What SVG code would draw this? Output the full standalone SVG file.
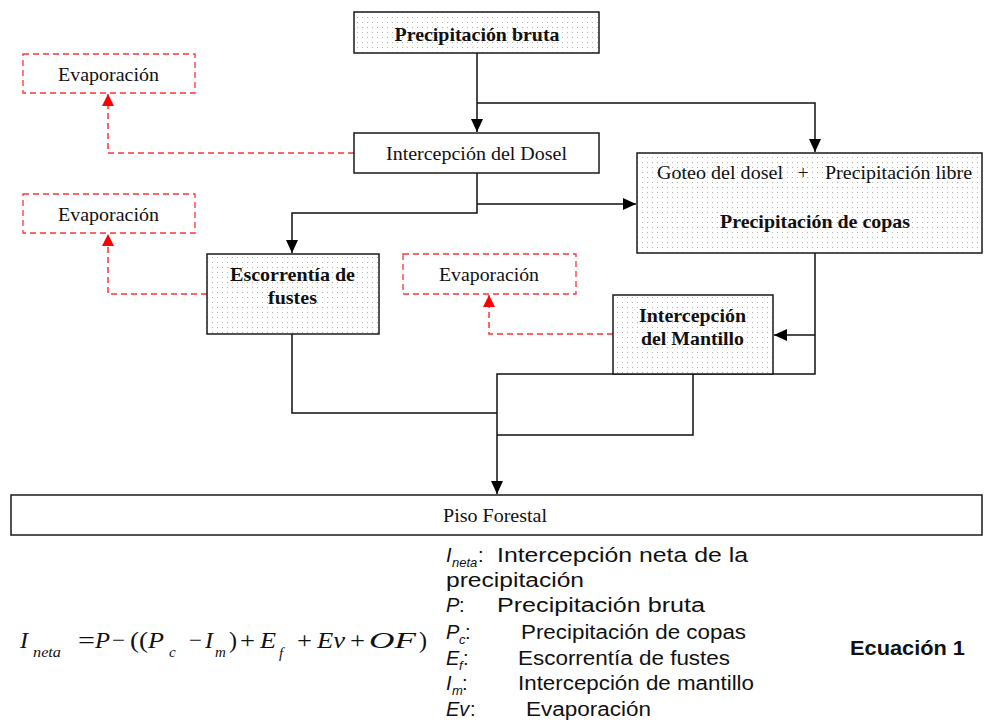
<svg xmlns="http://www.w3.org/2000/svg" width="984" height="722" viewBox="0 0 984 722">
<defs>
<pattern id="dots" width="5" height="5" patternUnits="userSpaceOnUse">
<rect width="5" height="5" fill="#ffffff"/>
<rect x="2" y="2" width="1" height="1" fill="#b4b4b4"/>
</pattern>
<marker id="ah" markerWidth="13" markerHeight="14" refX="13" refY="7" orient="auto" markerUnits="userSpaceOnUse">
<path d="M0,1 L13,7 L0,13 Z" fill="#000"/>
</marker>
<marker id="rh" markerWidth="12" markerHeight="14" refX="12" refY="7" orient="auto" markerUnits="userSpaceOnUse">
<path d="M0,1 L12,7 L0,13 Z" fill="#ff0000"/>
</marker>
<style>
.box{stroke:#1a1a1a;stroke-width:1.5}
.dot{fill:url(#dots)}
.plain{fill:#fff}
.evbox{fill:#fff;stroke:#ff3333;stroke-width:1.3;stroke-dasharray:6 4}
.con{fill:none;stroke:#111;stroke-width:1.5}
.rcon{fill:none;stroke:#ff3333;stroke-width:1.5;stroke-dasharray:6 4}
.t{font-family:"Liberation Serif","Times New Roman",serif;font-size:19px;fill:#111;text-anchor:middle}
.b{font-weight:bold}
.m{font-family:"Liberation Serif","Times New Roman",serif;font-size:24px;fill:#111;font-style:italic}
.mo{font-family:"Liberation Serif","Times New Roman",serif;font-size:24px;fill:#111}
.ms{font-family:"Liberation Serif","Times New Roman",serif;font-size:15px;fill:#111;font-style:italic}
.l{font-family:"Liberation Sans",Arial,sans-serif;font-size:20px;fill:#111}
.li{font-family:"Liberation Sans",Arial,sans-serif;font-size:20px;fill:#111;font-style:italic}
.lsub{font-family:"Liberation Sans",Arial,sans-serif;font-size:13px;fill:#111;font-style:italic}
</style>
</defs>
<rect width="984" height="722" fill="#fff"/>

<g id="connectors">
<path class="con" d="M477,53 V132" marker-end="url(#ah)"/>
<path class="con" d="M477,103 H815 V152" marker-end="url(#ah)"/>
<path class="con" d="M477,173 V213 H292 V253" marker-end="url(#ah)"/>
<path class="con" d="M477,204 H636" marker-end="url(#ah)"/>
<path class="con" d="M815,253 V374 H497 V494" marker-end="url(#ah)"/>
<path class="con" d="M815,335 H774" marker-end="url(#ah)"/>
<path class="con" d="M693,374 V435 H497"/>
<path class="con" d="M292,334 V413 H497"/>
<path class="rcon" d="M354,153 H108 V94" marker-end="url(#rh)"/>
<path class="rcon" d="M207,294 H108 V234" marker-end="url(#rh)"/>
<path class="rcon" d="M613,334 H489 V295" marker-end="url(#rh)"/>
</g>

<g id="precipitacion-bruta">
<rect class="box dot" x="354" y="12" width="245" height="41"/>
<text class="t b" x="477" y="41" textLength="165" lengthAdjust="spacingAndGlyphs">Precipitación bruta</text>
</g>

<g id="evaporacion-1">
<rect class="evbox" x="23" y="54" width="172" height="39"/>
<text class="t" x="108.5" y="81" textLength="101" lengthAdjust="spacingAndGlyphs">Evaporación</text>
</g>

<g id="intercepcion-dosel">
<rect class="box plain" x="354" y="133" width="245" height="40"/>
<text class="t" x="476.5" y="160" textLength="181" lengthAdjust="spacingAndGlyphs">Intercepción del Dosel</text>
</g>

<g id="precipitacion-copas">
<rect class="box dot" x="637" y="153" width="345" height="100"/>
<text class="t" x="720" y="179" textLength="126" lengthAdjust="spacingAndGlyphs">Goteo del dosel</text>
<text class="t" x="803" y="179">+</text>
<text class="t" x="898.5" y="179" textLength="147" lengthAdjust="spacingAndGlyphs">Precipitación libre</text>
<text class="t b" x="815" y="228" textLength="190" lengthAdjust="spacingAndGlyphs">Precipitación de copas</text>
</g>

<g id="evaporacion-2">
<rect class="evbox" x="23" y="194" width="172" height="39"/>
<text class="t" x="108.5" y="221" textLength="101" lengthAdjust="spacingAndGlyphs">Evaporación</text>
</g>

<g id="escorrentia-fustes">
<rect class="box dot" x="207" y="254" width="172" height="80"/>
<text class="t b" x="292.5" y="281" textLength="125" lengthAdjust="spacingAndGlyphs">Escorrentía de</text>
<text class="t b" x="292.5" y="304" textLength="49" lengthAdjust="spacingAndGlyphs">fustes</text>
</g>

<g id="evaporacion-3">
<rect class="evbox" x="403" y="254" width="173" height="40"/>
<text class="t" x="489" y="281" textLength="100" lengthAdjust="spacingAndGlyphs">Evaporación</text>
</g>

<g id="intercepcion-mantillo">
<rect class="box dot" x="613" y="295" width="160" height="79"/>
<text class="t b" x="692.5" y="322" textLength="107" lengthAdjust="spacingAndGlyphs">Intercepción</text>
<text class="t b" x="692.5" y="345" textLength="103" lengthAdjust="spacingAndGlyphs">del Mantillo</text>
</g>

<g id="piso-forestal">
<rect class="box plain" x="11" y="495" width="971" height="40"/>
<text class="t" x="495" y="522" textLength="104" lengthAdjust="spacingAndGlyphs">Piso Forestal</text>
</g>

<g id="ecuacion">
<text class="m" x="20" y="648">I</text>
<text class="ms" x="33" y="657" textLength="28" lengthAdjust="spacingAndGlyphs">neta</text>
<text class="mo" x="78" y="648" textLength="17" lengthAdjust="spacingAndGlyphs">=</text>
<text class="m" x="95" y="648" textLength="15" lengthAdjust="spacingAndGlyphs">P</text>
<text class="mo" x="112" y="648" textLength="13" lengthAdjust="spacingAndGlyphs">−</text>
<text class="mo" x="130" y="648" textLength="18" lengthAdjust="spacingAndGlyphs">((</text>
<text class="m" x="148" y="648" textLength="16" lengthAdjust="spacingAndGlyphs">P</text>
<text class="ms" x="169" y="657">c</text>
<text class="mo" x="189" y="648" textLength="13" lengthAdjust="spacingAndGlyphs">−</text>
<text class="m" x="205" y="648">I</text>
<text class="ms" x="215" y="657">m</text>
<text class="mo" x="229" y="648">)</text>
<text class="mo" x="240" y="648" textLength="15" lengthAdjust="spacingAndGlyphs">+</text>
<text class="m" x="260" y="648" textLength="16" lengthAdjust="spacingAndGlyphs">E</text>
<text class="ms" x="279" y="658">f</text>
<text class="mo" x="297" y="648" textLength="15" lengthAdjust="spacingAndGlyphs">+</text>
<text class="m" x="317" y="648" textLength="28" lengthAdjust="spacingAndGlyphs">Ev</text>
<text class="mo" x="350" y="648" textLength="15" lengthAdjust="spacingAndGlyphs">+</text>
<text class="m" x="369" y="648" textLength="47" lengthAdjust="spacingAndGlyphs">OF</text>
<text class="mo" x="419" y="648">)</text>
</g>

<g id="leyenda">
<text class="li" x="446" y="562">I</text>
<text class="lsub" x="452" y="567">neta</text>
<text class="l" x="478" y="562">:</text>
<text class="l" x="497" y="562" textLength="251" lengthAdjust="spacingAndGlyphs">Intercepción neta de la</text>
<text class="l" x="446" y="587" textLength="138" lengthAdjust="spacingAndGlyphs">precipitación</text>
<text class="li" x="446" y="612">P</text>
<text class="l" x="459" y="612">:</text>
<text class="l" x="497" y="612" textLength="208" lengthAdjust="spacingAndGlyphs">Precipitación bruta</text>
<text class="li" x="446" y="639">P</text>
<text class="lsub" x="459" y="644">c</text>
<text class="l" x="465" y="639">:</text>
<text class="l" x="521" y="639" textLength="225" lengthAdjust="spacingAndGlyphs">Precipitación de copas</text>
<text class="li" x="446" y="665">E</text>
<text class="lsub" x="459" y="670">f</text>
<text class="l" x="463" y="665">:</text>
<text class="l" x="518" y="665" textLength="212" lengthAdjust="spacingAndGlyphs">Escorrentía de fustes</text>
<text class="li" x="446" y="690">I</text>
<text class="lsub" x="452" y="695">m</text>
<text class="l" x="462" y="690">:</text>
<text class="l" x="518" y="690" textLength="236" lengthAdjust="spacingAndGlyphs">Intercepción de mantillo</text>
<text class="li" x="446" y="716">Ev</text>
<text class="l" x="470" y="716">:</text>
<text class="l" x="526" y="716" textLength="125" lengthAdjust="spacingAndGlyphs">Evaporación</text>
<text class="l" x="850" y="655" font-weight="bold" textLength="115" lengthAdjust="spacingAndGlyphs">Ecuación 1</text>
</g>
</svg>
